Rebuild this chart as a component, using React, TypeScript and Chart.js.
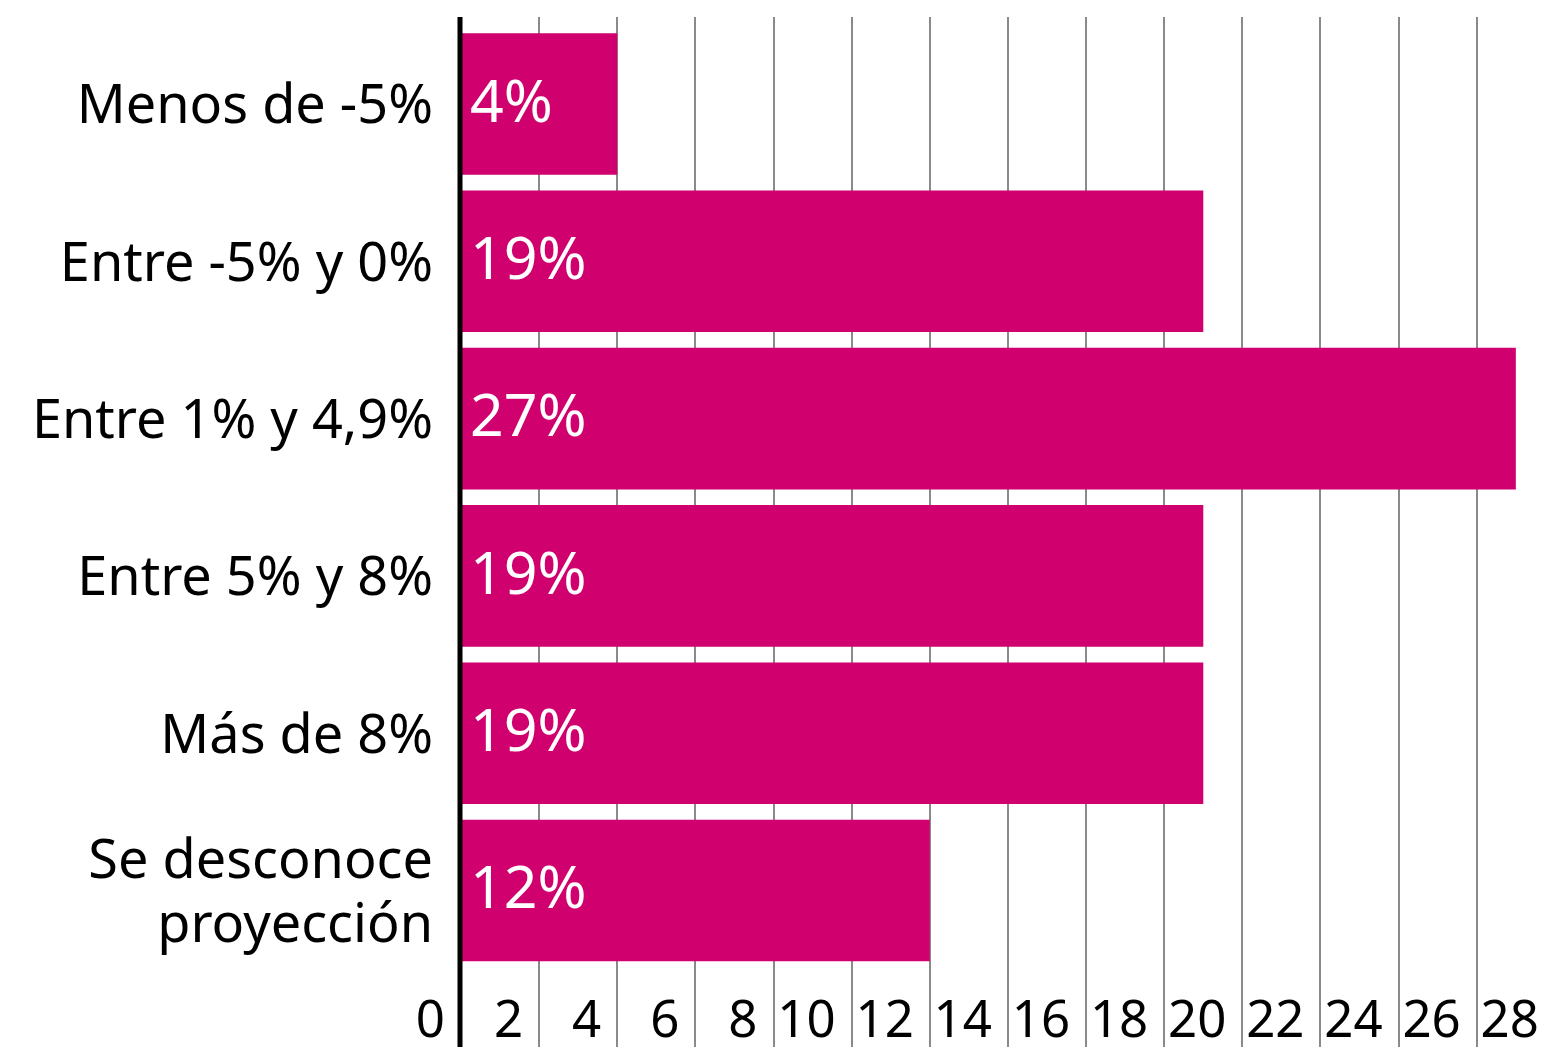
import React, { useEffect, useRef } from "react";
import { Chart, registerables } from "chart.js";

Chart.register(...registerables);

// ---- data ----
const categories: (string | string[])[] = [
  "Menos de -5%",
  "Entre -5% y 0%",
  "Entre 1% y 4,9%",
  "Entre 5% y 8%",
  "Más de 8%",
  ["Se desconoce", "proyección"],
];
const shares: number[] = [4, 19, 27, 19, 19, 12];
const xTicks: number[] = [0, 2, 4, 6, 8, 10, 12, 14, 16, 18, 20, 22, 24, 26, 28];
const xMax = 27.9;

// ---- style ----
const W = 1551;
const H = 1047;
const FONT = '"Noto Sans", "Open Sans", sans-serif';
const BAR_COLOR = "#d0006f";
const GRID_COLOR = "#8a8a8a";
const AXIS_LEFT = 461;
const GRID_TOP = 17;

export default function App() {
  const ref = useRef<HTMLCanvasElement | null>(null);

  useEffect(() => {
    const canvas = ref.current;
    if (!canvas) return;

    const framePlugin = {
      id: "frame",
      beforeDatasetsDraw(chart: any) {
        const { ctx } = chart;
        const xs = chart.scales.x;
        ctx.save();
        ctx.strokeStyle = GRID_COLOR;
        ctx.lineWidth = 2;
        xTicks.forEach((v) => {
          if (v === 0) return;
          const px = Math.round(xs.getPixelForValue(v));
          ctx.beginPath();
          ctx.moveTo(px, GRID_TOP);
          ctx.lineTo(px, H);
          ctx.stroke();
        });
        ctx.restore();
      },
      afterDatasetsDraw(chart: any) {
        const { ctx } = chart;
        const xs = chart.scales.x;
        ctx.save();
        // value labels inside bars
        ctx.fillStyle = "#ffffff";
        ctx.font = `59px ${FONT}`;
        ctx.textAlign = "left";
        ctx.textBaseline = "middle";
        const meta = chart.getDatasetMeta(0);
        meta.data.forEach((bar: any, i: number) => {
          const p = bar.getProps(["y", "base"], true);
          ctx.fillText(`${shares[i]}%`, p.base + 9, p.y + 1);
        });
        // x tick labels
        ctx.fillStyle = "#000000";
        ctx.font = `51px ${FONT}`;
        ctx.textAlign = "right";
        ctx.textBaseline = "alphabetic";
        xTicks.forEach((v) => {
          const px = xs.getPixelForValue(v);
          ctx.fillText(String(v), px - 16, 1037);
        });
        // zero axis line
        const zx = xs.getPixelForValue(0) - 1;
        ctx.strokeStyle = "#000000";
        ctx.lineWidth = 5;
        ctx.beginPath();
        ctx.moveTo(zx, GRID_TOP);
        ctx.lineTo(zx, H);
        ctx.stroke();
        ctx.restore();
      },
    };

    const chart = new Chart(canvas, {
      type: "bar",
      data: {
        labels: categories as any,
        datasets: [
          {
            data: shares,
            backgroundColor: BAR_COLOR,
            borderWidth: 0,
            categoryPercentage: 1,
            barPercentage: 0.9,
          },
        ],
      },
      options: {
        indexAxis: "y",
        responsive: false,
        maintainAspectRatio: false,
        animation: false,
        layout: { padding: { top: 25.3, bottom: 77.8, left: 0, right: 0 } },
        plugins: {
          legend: { display: false },
          tooltip: { enabled: false },
          title: { display: false },
        },
        scales: {
          x: {
            type: "linear",
            min: 0,
            max: xMax,
            display: false,
          },
          y: {
            type: "category",
            grid: { display: false },
            border: { display: false },
            ticks: {
              color: "#000000",
              padding: 20,
              labelOffset: 4,
              font: { family: FONT, size: 54, lineHeight: 1.19 },
            },
            afterFit: (scale: any) => {
              scale.width = AXIS_LEFT;
              scale.paddingTop = 0;
              scale.paddingBottom = 0;
            },
          },
        },
      },
      plugins: [framePlugin],
    });

    return () => chart.destroy();
  }, []);

  return (
    <canvas
      ref={ref}
      width={W}
      height={H}
      style={{ position: "fixed", left: 0, top: 0, width: W, height: H, background: "#fff" }}
    />
  );
}
